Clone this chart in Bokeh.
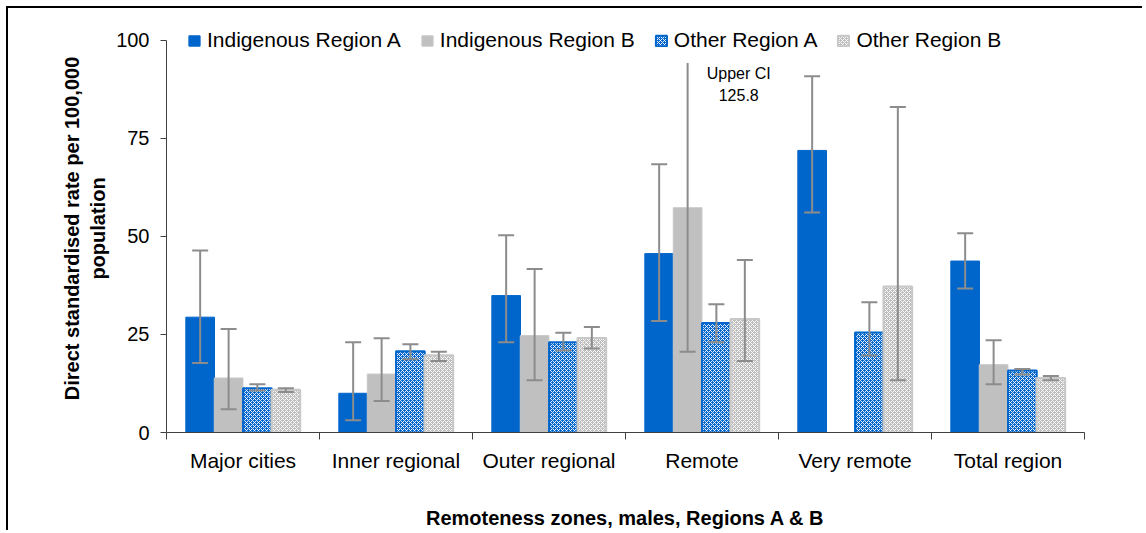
from bokeh.plotting import figure
from bokeh.models import (ColumnDataSource, Legend, LegendItem, FixedTicker, Label, Range1d)
from bokeh.transform import dodge
from bokeh.embed import file_html
from bokeh.resources import INLINE

categories = ["Major cities", "Inner regional", "Outer regional", "Remote", "Very remote", "Total region"]
series_names = ["Indigenous Region A", "Indigenous Region B", "Other Region A", "Other Region B"]

ind_a = [29.4, 10.0, 34.9, 45.6, 71.9, 43.7]
ind_a_lower = [17.7, 3.1, 23.0, 28.4, 56.1, 36.7]
ind_a_upper = [46.4, 23.0, 50.3, 68.4, 90.8, 50.8]

ind_b = [13.9, 14.9, 24.7, 57.3, None, 17.3]
ind_b_lower = [5.9, 8.0, 13.3, 20.6, None, 12.3]
ind_b_upper = [26.4, 24.0, 41.7, 125.8, None, 23.5]

oth_a = [11.3, 20.7, 23.0, 27.9, 25.5, 15.8]
oth_a_lower = [10.7, 18.7, 20.9, 23.0, 19.6, 14.8]
oth_a_upper = [12.3, 22.5, 25.4, 32.7, 33.2, 16.2]

oth_b = [10.9, 19.7, 24.1, 28.9, 37.2, 13.9]
oth_b_lower = [10.3, 18.2, 21.4, 18.2, 13.3, 13.3]
oth_b_upper = [11.3, 20.6, 26.9, 44.0, 83.0, 14.4]

y_ticks = [0, 25, 50, 75, 100]

FONT = "Liberation Sans"
ERR = "#8C8C8C"

series = [
    (series_names[0], ind_a, ind_a_lower, ind_a_upper),
    (series_names[1], ind_b, ind_b_lower, ind_b_upper),
    (series_names[2], oth_a, oth_a_lower, oth_a_upper),
    (series_names[3], oth_b, oth_b_lower, oth_b_upper),
]
offsets = [-0.28, -0.094, 0.094, 0.28]
bar_w = 0.1875
styles = [
    dict(fill_color="#0066CC", line_color="#0066CC", line_width=1),
    dict(fill_color="#C0C0C0", line_color="#C8C8C8", line_width=1),
    dict(fill_color="#0066CC", line_color="#0066CC", line_width=2,
         hatch_pattern="diagonal_cross", hatch_color="white", hatch_scale=4, hatch_weight=1, hatch_alpha=0.9),
    dict(fill_color="#BDBDBD", line_color="#C8C8C8", line_width=2,
         hatch_pattern="diagonal_cross", hatch_color="white", hatch_scale=4, hatch_weight=1, hatch_alpha=0.9),
]

p = figure(width=1136, height=524, x_range=Range1d(0, len(categories)), y_range=Range1d(0, 104),
           output_backend="svg", toolbar_location=None,
           min_border_left=158, min_border_right=60, min_border_top=16, min_border_bottom=100)
p.background_fill_color = "white"
p.border_fill_color = "white"
p.outline_line_color = None
p.xgrid.visible = False
p.ygrid.visible = False
p.styles = {"margin-left": "8px", "margin-top": "8px", "box-shadow": "-2px -2px 0 0 #000000"}

legend_items = []
for (name, vals, lows, ups), off, st in zip(series, offsets, styles):
    xs, tops, lo, up = [], [], [], []
    for i, v in enumerate(vals):
        if v is None:
            continue
        xs.append(i + 0.5)
        tops.append(v)
        lo.append(lows[i])
        up.append(ups[i])
    src = ColumnDataSource(dict(x=xs, top=tops, lower=lo, upper=up))
    r = p.vbar(x=dodge("x", off), top="top", bottom=0, width=bar_w, source=src, **st)
    legend_items.append(LegendItem(label=name, renderers=[r]))
    p.segment(x0=dodge("x", off), y0="lower", x1=dodge("x", off), y1="upper", source=src,
              line_color=ERR, line_width=2)
    p.scatter(x=dodge("x", off), y="upper", marker="dash", size=16, line_color=ERR, line_width=2, source=src)
    p.scatter(x=dodge("x", off), y="lower", marker="dash", size=16, line_color=ERR, line_width=2, source=src)

# x axis: category labels at centres, ticks at category boundaries
centres = [i + 0.5 for i in range(len(categories))]
bounds = list(range(len(categories) + 1))
xa = p.xaxis[0]
xa.ticker = FixedTicker(ticks=centres, minor_ticks=bounds)
xa.major_label_overrides = {c: lab for c, lab in zip(centres, categories)}
xa.major_tick_out = 0
xa.major_tick_in = 0
xa.minor_tick_out = 7
xa.minor_tick_in = 0
xa.minor_tick_line_color = "#404040"
xa.axis_line_color = "#404040"
xa.major_label_standoff = 9
xa.major_label_text_font = FONT
xa.major_label_text_font_size = "21px"
xa.major_label_text_color = "#000000"
xa.axis_label = "Remoteness zones, males, Regions A & B"
xa.axis_label_text_font = FONT
xa.axis_label_text_font_size = "20px"
xa.axis_label_text_font_style = "bold"
xa.axis_label_text_color = "#000000"
xa.axis_label_standoff = 32

ya = p.yaxis[0]
ya.ticker = FixedTicker(ticks=y_ticks)
ya.bounds = (0, 100)
ya.major_tick_out = 6
ya.major_tick_in = 0
ya.minor_tick_line_color = None
ya.major_tick_line_color = "#404040"
ya.axis_line_color = "#404040"
ya.major_label_standoff = 11
ya.major_label_text_font = FONT
ya.major_label_text_font_size = "20px"
ya.major_label_text_color = "#000000"
ya.axis_label = "Direct standardised rate per 100,000\npopulation"
ya.axis_label_text_font = FONT
ya.axis_label_text_font_size = "20px"
ya.axis_label_text_font_style = "bold"
ya.axis_label_text_color = "#000000"
ya.axis_label_standoff = 4

note = Label(x=3.74, y=88.6, text=f"Upper CI\n{ind_b_upper[3]}", text_align="center",
             text_baseline="middle", text_font=FONT, text_font_size="16px",
             text_line_height=1.3, text_color="#000000")
p.add_layout(note)

legend = Legend(items=legend_items, orientation="horizontal", location=(10, 369),
                glyph_width=14, glyph_height=13, label_standoff=6, spacing=19,
                label_height=24, padding=10, margin=0,
                background_fill_color="white", background_fill_alpha=1,
                border_line_color="white", border_line_width=1,
                label_text_font=FONT, label_text_font_size="21px",
                label_text_color="#000000")
p.add_layout(legend, "center")

open("out.html", "w").write(file_html(p, INLINE))
